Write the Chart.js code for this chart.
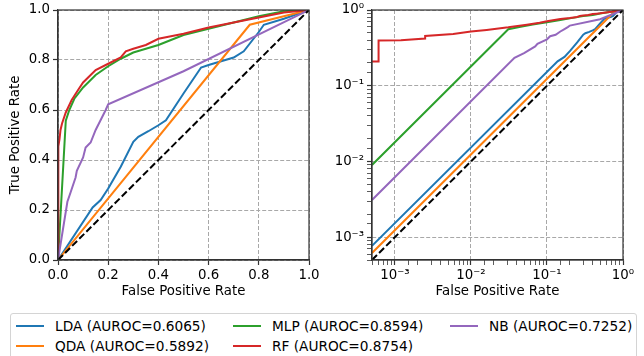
<!DOCTYPE html>
<html>
<head>
<meta charset="utf-8">
<script src="https://cdn.jsdelivr.net/npm/chart.js@4.4.1/dist/chart.umd.min.js"></script>
<style>
  body { margin: 0; width: 644px; height: 356px; background: #fff; overflow: hidden; position: relative; font-family: "DejaVu Sans", sans-serif; }
  #lineal { position: absolute; left: 0; top: 0; }
  #loglog { position: absolute; left: 320px; top: 0; }
  #leyenda {
    position: absolute; left: 10px; top: 313px; width: 625px; height: 50px;
    border: 1px solid #d4d4d4; border-radius: 3px; box-sizing: content-box;
  }
  .item { position: absolute; height: 20px; line-height: 20px; font-size: 13.7px; color: #000; white-space: nowrap; }
  .item span.linea { position: absolute; left: 0; top: 9px; width: 28px; height: 2px; }
  .item span.texto { position: absolute; left: 39px; top: 0; }
</style>
</head>
<body>
<canvas id="lineal" width="320" height="300"></canvas>
<canvas id="loglog" width="324" height="300"></canvas>
<div id="leyenda"></div>
<script>
// curvas ROC (FPR, TPR)
const ldaFpr = [0, 0.0005, 0.138, 0.17, 0.2, 0.25, 0.3, 0.32, 0.36, 0.4, 0.43, 0.5, 0.57, 0.6, 0.65, 0.7, 0.74, 0.8, 0.82, 0.9, 1];
const ldaTpr = [0, 0.00077, 0.21, 0.24, 0.286, 0.373, 0.473, 0.493, 0.515, 0.539, 0.559, 0.666, 0.77, 0.78, 0.795, 0.81, 0.835, 0.912, 0.941, 0.965, 1];

const qdaFpr = [0, 0.0005, 0.764, 1];
const qdaTpr = [0, 0.00062, 0.941, 1];

const mlpFpr = [0, 0.0005, 0.031, 0.045, 0.065, 0.1, 0.15, 0.2, 0.25, 0.3, 0.35, 0.4, 0.45, 0.5, 0.6, 0.7, 0.8, 0.9, 1];
const mlpTpr = [0, 0.009, 0.557, 0.6, 0.645, 0.69, 0.74, 0.775, 0.805, 0.83, 0.845, 0.86, 0.88, 0.9, 0.925, 0.95, 0.975, 0.995, 1];

const rfFpr = [0, 0.0005, 0.00061, 0.00061, 0.0012, 0.0025, 0.0025, 0.00585, 0.01, 0.0161, 0.031, 0.0545, 0.08, 0.1, 0.15, 0.2, 0.25, 0.27, 0.3, 0.35, 0.4, 0.45, 0.5, 0.6, 0.7, 0.8, 0.9, 1];
const rfTpr = [0, 0.209, 0.209, 0.395, 0.4, 0.42, 0.455, 0.483, 0.52, 0.546, 0.59, 0.64, 0.68, 0.71, 0.76, 0.785, 0.81, 0.835, 0.845, 0.86, 0.885, 0.895, 0.905, 0.93, 0.95, 0.97, 0.99, 1];

const nbFpr = [0, 0.0005, 0.0374, 0.05, 0.07, 0.075, 0.1, 0.11, 0.13, 0.15, 0.17, 0.19, 0.2, 0.5, 1];
const nbTpr = [0, 0.0031, 0.233, 0.27, 0.33, 0.357, 0.41, 0.45, 0.47, 0.52, 0.56, 0.6, 0.623, 0.755, 1];

const azarFpr = [0, 0.0005, 1];
const azarTpr = [0, 0.0005, 1];

const nombres = ["LDA", "QDA", "MLP", "RF", "NB"];
const auroc = [0.6065, 0.5892, 0.8594, 0.8754, 0.7252];
const colores = ["#1f77b4", "#ff7f0e", "#2ca02c", "#d62728", "#9467bd"];
const curvas = [[ldaFpr, ldaTpr], [qdaFpr, qdaTpr], [mlpFpr, mlpTpr], [rfFpr, rfTpr], [nbFpr, nbTpr]];

const ticksLineal = [0, 0.2, 0.4, 0.6, 0.8, 1];

Chart.defaults.font.family = '"DejaVu Sans"';
Chart.defaults.font.size = 13.33;
Chart.defaults.color = "#000";

function puntos(fpr, tpr, log) {
  return fpr
    .map((x, i) => ({ x: x, y: tpr[i] }))
    .filter((p) => !log || (p.x > 0 && p.y > 0));
}

function crearDatasets(log) {
  const ds = nombres.map((n, i) => ({
    label: n,
    data: puntos(curvas[i][0], curvas[i][1], log),
    borderColor: colores[i],
    borderWidth: 2,
    pointRadius: 0,
    showLine: true,
    tension: 0,
  }));
  ds.push({
    label: "azar",
    data: puntos(azarFpr, azarTpr, log),
    borderColor: "#000",
    borderDash: [7, 3],
    borderWidth: 2,
    pointRadius: 0,
    showLine: true,
  });
  // Chart.js pinta el primero encima
  return ds.reverse();
}

/* marco negro alrededor del area */
const marco = {
  id: "marco",
  afterDatasetsDraw(chart) {
    const { ctx, chartArea: a } = chart;
    ctx.save();
    ctx.strokeStyle = "#333";
    ctx.lineWidth = 1.2;
    ctx.strokeRect(a.left, a.top, a.right - a.left, a.bottom - a.top);
    ctx.restore();
  },
};

const sup = { "-": "\u207B", 0: "\u2070", 1: "\u00B9", 2: "\u00B2", 3: "\u00B3" };
function esDecada(v) {
  const e = Math.log10(v);
  return Math.abs(e - Math.round(e)) < 1e-6;
}
function etiquetaLog(v) {
  if (!esDecada(v)) return "";
  return "10" + String(Math.round(Math.log10(v))).split("").map((c) => sup[c]).join("");
}

// ancho/alto fijo del eje sin margen extra por las etiquetas
function fijar(esY, tam) {
  return (s) => {
    if (esY) s.width = tam;
    else s.height = tam;
    s.paddingLeft = 0;
    s.paddingRight = 0;
    s.paddingTop = 0;
    s.paddingBottom = 0;
  };
}

function ejeLineal(titulo, esY) {
  return {
    type: "linear",
    min: 0,
    max: 1,
    afterBuildTicks: (s) => { s.ticks = ticksLineal.map((v) => ({ value: v })); },
    ticks: { padding: 3, maxRotation: 0, callback: (v) => v.toFixed(1) },
    grid: { color: "#a8a8a8", lineWidth: 1, tickLength: 5, tickColor: "#333", tickWidth: 1.2 },
    border: { color: "#333", width: 1.2, dash: [4, 2] },
    title: { display: titulo !== "", text: titulo, padding: esY ? { top: 8, bottom: 0 } : { top: 0, bottom: 0 } },
    afterFit: fijar(esY, esY ? 58 : 40),
  };
}

function ejeLog(titulo, esY) {
  return {
    type: "logarithmic",
    min: 5e-4,
    max: 1,
    ticks: { autoSkip: false, maxRotation: 0, padding: 3, callback: etiquetaLog },
    grid: {
      color: (c) => (c.tick && esDecada(c.tick.value) ? "#a8a8a8" : "rgba(0,0,0,0)"),
      lineWidth: 1,
      tickLength: 5,
      tickColor: "#333",
      tickWidth: (c) => (c.tick && esDecada(c.tick.value) ? 1.2 : 0.8),
    },
    border: { color: "#333", width: 1.2, dash: [4, 2] },
    title: { display: titulo !== "", text: titulo, padding: { top: 0, bottom: 0 } },
    afterFit: fijar(esY, esY ? 52 : 40),
  };
}

function opcionesBase(padDer) {
  return {
    responsive: false,
    animation: false,
    layout: { padding: { top: 10, right: padDer, left: 0, bottom: 0 } },
    plugins: { legend: { display: false }, tooltip: { enabled: false } },
  };
}

/* ROC lineal */
const optLineal = opcionesBase(11);
optLineal.scales = { x: ejeLineal("False Positive Rate", false), y: ejeLineal("True Positive Rate", true) };
new Chart(document.getElementById("lineal"), {
  type: "scatter",
  data: { datasets: crearDatasets(false) },
  options: optLineal,
  plugins: [marco],
});

/* ROC log-log */
const optLog = opcionesBase(21);
optLog.scales = { x: ejeLog("False Positive Rate", false), y: ejeLog("", true) };
new Chart(document.getElementById("loglog"), {
  type: "scatter",
  data: { datasets: crearDatasets(true) },
  options: optLog,
  plugins: [marco],
});

/* leyenda */
const leyenda = document.getElementById("leyenda");
nombres.forEach((n, i) => {
  const col = Math.floor(i / 2);
  const fila = i % 2;
  const item = document.createElement("div");
  item.className = "item";
  item.style.left = 5 + col * 217 + "px";
  item.style.top = 2 + fila * 20 + "px";
  item.innerHTML =
    '<span class="linea" style="background:' + colores[i] + '"></span>' +
    '<span class="texto">' + n + " (AUROC=" + auroc[i].toFixed(4) + ")</span>";
  leyenda.appendChild(item);
});
</script>
</body>
</html>
